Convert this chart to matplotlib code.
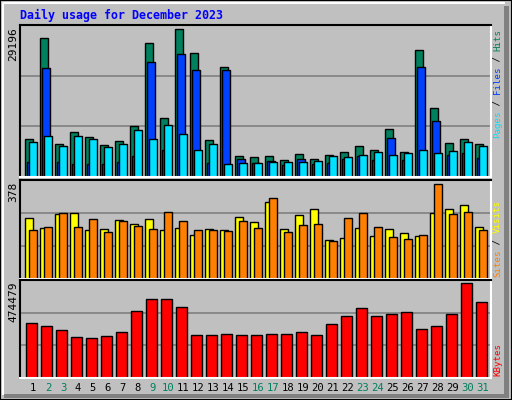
import matplotlib.pyplot as plt
from matplotlib.patches import Rectangle

days = list(range(1, 32))
weekend = [2, 3, 9, 10, 16, 17, 23, 24, 30, 31]

hits = [7547, 27407, 6554, 8937, 7944, 6355, 7150, 10129, 26414, 11717, 29196,
        24428, 7348, 21647, 4171, 3972, 4171, 3376, 4568, 3575, 4369, 4965,
        6157, 5362, 9533, 4965, 25024, 13703, 6752, 7547, 6554]
files = [2979, 21449, 2979, 2582, 2582, 2582, 2979, 4171, 22640, 5362, 24229,
         21052, 2780, 21052, 3575, 2780, 3178, 2383, 3575, 2582, 2780, 3575,
         4171, 3376, 7745, 3376, 21647, 11122, 4369, 4766, 3773]
pages = [6951, 8143, 6157, 8143, 7547, 5958, 6554, 9334, 7547, 10327, 8540,
         5362, 6554, 2582, 2780, 2780, 2979, 2979, 2979, 3178, 4171, 3972,
         4369, 4965, 4369, 4766, 5362, 4766, 5164, 6951, 6157]
visits = [242, 205, 259, 263, 197, 201, 234, 221, 238, 197, 205, 176, 201, 197,
          246, 226, 308, 201, 254, 279, 155, 164, 205, 172, 201, 184, 172, 263,
          279, 296, 209]
sites = [197, 209, 263, 209, 238, 188, 230, 213, 201, 267, 230, 197, 197, 193,
         230, 205, 325, 188, 217, 221, 151, 242, 263, 209, 168, 160, 176, 378,
         259, 267, 197]
kbytes = [277000, 261000, 241000, 204000, 199000, 210000, 230000, 334000,
          397000, 397000, 355000, 215000, 215000, 220000, 215000, 215000,
          220000, 220000, 230000, 215000, 272000, 313000, 350000, 313000,
          319000, 329000, 246000, 261000, 319000, 474479, 381000]

W, H = 512, 400
BG = "#c0c0c0"
MONO = "DejaVu Sans Mono"
fig = plt.figure(figsize=(W / 100, H / 100), dpi=100, facecolor=BG)

# outer 3d frame
fig.patches.append(Rectangle((0, 0), 1, 1, transform=fig.transFigure,
                             fill=False, ec="black", lw=1.5))
fig.patches.append(Rectangle((504 / W, 2 / H), 5 / W, 392 / H, transform=fig.transFigure,
                             color="#808080", lw=0))
fig.patches.append(Rectangle((4 / W, 2 / H), 505 / W, 4 / H, transform=fig.transFigure,
                             color="#808080", lw=0))
fig.lines.append(plt.Line2D([3 / W, 3 / W, 504 / W], [6 / H, 1 - 3 / H, 1 - 3 / H],
                            transform=fig.transFigure, color="white", lw=1.5))


def panel(top, bottom, ymax):
    ax = fig.add_axes([20 / W, 1 - bottom / H, 471 / W, (bottom - top) / H])
    ax.set_facecolor(BG)
    ax.set_xlim(1 - 13 / 15, 1 - 13 / 15 + 471 / 15)
    ax.set_ylim(0, ymax)
    for y in (ymax / 3, 2 * ymax / 3):
        ax.axhline(y, color="#808080", lw=1.2, zorder=0)
    ax.set_xticks([])
    ax.set_yticks([])
    for s in ("top", "left"):
        ax.spines[s].set_color("black")
    for s in ("bottom", "right"):
        ax.spines[s].set_color("white")
    for s in ax.spines.values():
        s.set_linewidth(1.5)
    return ax


bw = 8 / 15
ax1 = panel(25, 177, 29990)
ax1.bar([d - 8 / 15 for d in days], hits, bw, align="edge", color="#00805c", ec="black", lw=1)
ax1.bar([d - 6 / 15 for d in days], files, bw, align="edge", color="#0040ff", ec="black", lw=1)
ax1.bar([d - 4 / 15 for d in days], pages, bw, align="edge", color="#00e0ff", ec="black", lw=1)

ax2 = panel(180, 279, 396)
ax2.bar([d - 8 / 15 for d in days], visits, bw, align="edge", color="#ffff00", ec="black", lw=1)
ax2.bar([d - 4 / 15 for d in days], sites, bw, align="edge", color="#ff8000", ec="black", lw=1)

ax3 = panel(280, 378, 491800)
ax3.bar([d - 7 / 15 for d in days], kbytes, 11 / 15, align="edge", color="#ff0000", ec="black", lw=1)

fig.text(20 / W, 1 - 15 / H, "Daily usage for December 2023", color="#0000ff",
         fontsize=8.4, fontweight="bold", family=MONO, va="center")

for ax, mx in ((ax1, "29196"), (ax2, "378"), (ax3, "474479")):
    top = ax.get_position().y1
    fig.text(8 / W, top - 2 / H, mx, rotation=90, fontsize=8, family=MONO,
             va="top", ha="left")

for d in days:
    fig.text((20 + (d - 1 + 13 / 15) * 15) / W, 1 - 388 / H, str(d), ha="center",
             va="center", fontsize=7.6, family=MONO,
             color="#00805c" if d in weekend else "black")


def side_label(pieces, start):
    y = start
    for txt, col in pieces:
        fig.text(493 / W, 1 - y / H, txt, rotation=90, color=col, fontsize=6.6,
                 family=MONO, va="bottom", ha="left")
        y -= len(txt) * 5.45


side_label([("Pages", "#00e0ff"), (" / ", "black"), ("Files", "#0040ff"),
            (" / ", "black"), ("Hits", "#00805c")], 138)
side_label([("Sites", "#ff8000"), (" / ", "black"), ("Visits", "#ffff00")], 277)
side_label([("KBytes", "#ff0000")], 376)

fig.savefig("out.png", dpi=100, facecolor=BG)
